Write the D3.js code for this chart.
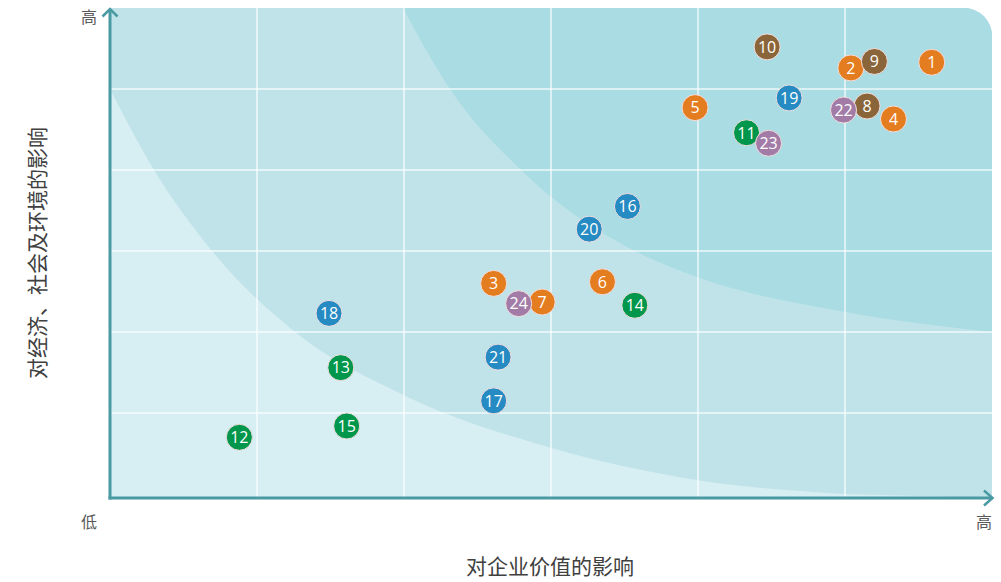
<!DOCTYPE html>
<html><head><meta charset="utf-8">
<script src="https://cdn.jsdelivr.net/npm/d3@7"></script>
<style>
html,body{margin:0;padding:0;background:#fff;}
svg{display:block;}
</style></head>
<body>
<svg id="chart" width="1001" height="582"></svg>
<script>
// ---- data ----
const ids    = [1,2,3,4,5,6,7,8,9,10,11,12,13,14,15,16,17,18,19,20,21,22,23,24];
const groups = ["econ","econ","econ","econ","econ","econ","econ","gov","gov","gov","env","env","env","env","env","soc","soc","soc","soc","soc","soc","oth","oth","oth"];
const valueX = [5.59,5.04,2.61,5.33,3.98,3.35,2.94,5.15,5.20,4.47,4.33,0.88,1.57,3.57,1.61,3.52,2.61,1.49,4.62,3.26,2.64,4.99,4.48,2.78];
const valueY = [5.33,5.26,2.60,4.63,4.77,2.62,2.37,4.79,5.34,5.52,4.46,0.70,1.56,2.33,0.84,3.55,1.15,2.23,4.89,3.27,1.69,4.74,4.33,2.35];
const groupColors = {econ:"#e47d1f", gov:"#8a6539", env:"#00964b", soc:"#268ac3", oth:"#a27ca6"};
const lowLabel = "低", highLabel = "高";
const xTitle = "对企业价值的影响";
const yTitle = "对经济、社会及环境的影响";
// zone boundaries (data units)
const innerBoundaryX = [0,0.30,0.694,1.259,2.0,3.0,4.0,5.0];
const innerBoundaryY = [5,4.0,3.0,2.0,1.22,0.57,0.17,0];
const outerBoundaryX = [1.993,2.313,2.796,3.571,3.993,4.993,6];
const outerBoundaryY = [6,5,4,3,2.68,2.25,2.0];

// ---- layout ----
const svg = d3.select("#chart");
const x = d3.scaleLinear().domain([0,6]).range([110,992]);
const y = d3.scaleLinear().domain([0,6]).range([494,8]);
const axisY = 498;
const cjk = "'Noto Sans CJK SC','Noto Sans',sans-serif";

const defs = svg.append("defs");
const r = 28;
const L = x(0), R = x(6), T = y(6), B = axisY;
defs.append("clipPath").attr("id","plotClip").append("path")
  .attr("d",`M${L},${B}V${T}H${R-r}A${r},${r} 0 0 1 ${R},${T+r}V${B}Z`);

const g = svg.append("g").attr("clip-path","url(#plotClip)");
g.append("rect").attr("x",L).attr("y",T).attr("width",R-L).attr("height",B-T).attr("fill","#d7eef3");

const line = d3.line().x(d=>x(d[0])).y(d=>y(d[1])).curve(d3.curveMonotoneX);
const inner = innerBoundaryX.map((v,i)=>[v,innerBoundaryY[i]]);
const outer = outerBoundaryX.map((v,i)=>[v,outerBoundaryY[i]]);
g.append("path").attr("fill","#bfe3e9")
  .attr("d", line(inner) + `L${R},${B}L${R},${T}L${L},${T}Z`);
g.append("path").attr("fill","#a9dce3")
  .attr("d", line(outer) + `L${R},${T}Z`);

// grid
const gridVals = [1,2,3,4,5];
g.selectAll(".vg").data(gridVals).enter().append("line")
  .attr("x1",d=>x(d)).attr("x2",d=>x(d)).attr("y1",T).attr("y2",B)
  .attr("stroke","#fff").attr("stroke-opacity",0.8).attr("stroke-width",1.5);
g.selectAll(".hg").data(gridVals).enter().append("line")
  .attr("y1",d=>y(d)).attr("y2",d=>y(d)).attr("x1",L).attr("x2",R)
  .attr("stroke","#fff").attr("stroke-opacity",0.8).attr("stroke-width",1.5);

// axes
const axisColor = "#4a9aa4";
svg.append("line").attr("x1",L).attr("x2",L).attr("y1",axisY+1.5).attr("y2",T+1)
  .attr("stroke",axisColor).attr("stroke-width",3);
svg.append("line").attr("x1",L-1.5).attr("x2",R).attr("y1",axisY).attr("y2",axisY)
  .attr("stroke",axisColor).attr("stroke-width",3);
svg.append("path").attr("d",`M${L-7.5},${T+8.5}L${L},${T+1}L${L+7.5},${T+8.5}`)
  .attr("fill","none").attr("stroke",axisColor).attr("stroke-width",2.5);
svg.append("path").attr("d",`M${R-8},${axisY-7.5}L${R+0.5},${axisY}L${R-8},${axisY+7.5}`)
  .attr("fill","none").attr("stroke",axisColor).attr("stroke-width",2.5);

// axis end labels
const lab = (t,px,py)=>svg.append("text").text(t).attr("x",px).attr("y",py)
  .attr("text-anchor","middle").attr("font-family",cjk).attr("font-size",16).attr("fill","#595959");
lab(highLabel,89,23);
lab(lowLabel,89,528);
lab(highLabel,984,528);

// titles
svg.append("text").text(xTitle).attr("x",550).attr("y",574)
  .attr("text-anchor","middle").attr("font-family",cjk).attr("font-size",21).attr("fill","#404040");
svg.append("text").text(yTitle).attr("transform","translate(45,253) rotate(-90)")
  .attr("text-anchor","middle").attr("font-family",cjk).attr("font-size",21).attr("fill","#404040");

// points
const pts = ids.map((id,i)=>({id, g:groups[i], vx:valueX[i], vy:valueY[i]}));
const pg = svg.selectAll(".pt").data(pts).enter().append("g")
  .attr("transform",d=>`translate(${x(d.vx)},${y(d.vy)})`);
pg.append("circle").attr("r",13).attr("fill",d=>groupColors[d.g])
  .attr("stroke","#f3dede").attr("stroke-width",1);
pg.append("text").text(d=>d.id).attr("text-anchor","middle").attr("dy","0.36em")
  .attr("font-family","'Open Sans',sans-serif").attr("font-size",16).attr("fill","#fff");
</script>
</body></html>
